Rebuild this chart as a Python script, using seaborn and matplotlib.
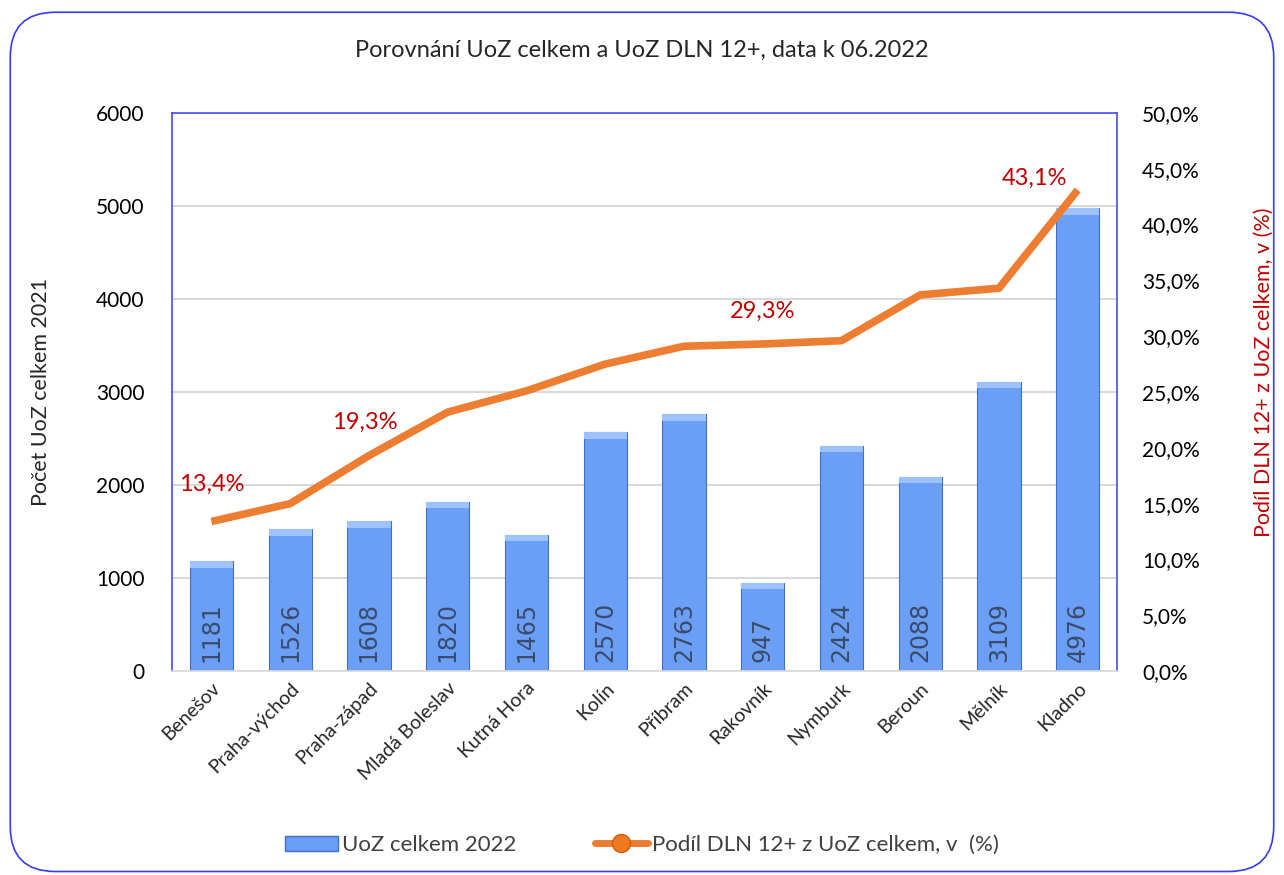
import matplotlib
matplotlib.use("Agg")
import matplotlib.pyplot as plt
import seaborn as sns
import pandas as pd
from matplotlib.patches import FancyBboxPatch, Patch
from matplotlib.lines import Line2D
from matplotlib.ticker import FuncFormatter, MultipleLocator

districts = ["Benešov", "Praha-východ", "Praha-západ", "Mladá Boleslav", "Kutná Hora",
             "Kolín", "Příbram", "Rakovník", "Nymburk", "Beroun", "Mělník", "Kladno"]
uoz_total = [1181, 1526, 1608, 1820, 1465, 2570, 2763, 947, 2424, 2088, 3109, 4976]
dln_share = [13.4, 15.0, 19.3, 23.2, 25.1, 27.5, 29.1, 29.3, 29.6, 33.7, 34.3, 43.1]
labelled_idx = [0, 2, 7, 11]

title = "Porovnání UoZ celkem a UoZ DLN 12+, data k 06.2022"
ylabel_left = "Počet UoZ celkem 2021"
ylabel_right = "Podíl DLN 12+ z UoZ celkem, v (%)"
legend_bar = "UoZ celkem 2022"
legend_line = "Podíl DLN 12+ z UoZ celkem, v  (%)"

sns.set_theme(style="white")
plt.rcParams["font.family"] = ["Lato", "DejaVu Sans"]

df = pd.DataFrame({"district": districts, "uoz": uoz_total, "share": dln_share})

fig = plt.figure(figsize=(12.84, 8.75), dpi=100)
fig.patches.append(FancyBboxPatch((0.008, 0.004), 0.984, 0.982, boxstyle="round,pad=0,rounding_size=0.035",
                                  transform=fig.transFigure, fill=False, edgecolor="#3a3af0", lw=1.2,
                                  mutation_aspect=1284/875))
ax = fig.add_axes([0.134, 0.2331, 0.736, 0.6378])

bar_color = "#6a9ff5"
sns.barplot(data=df, x="district", y="uoz", ax=ax, color=bar_color, width=0.55,
            edgecolor="#3f6fc8", linewidth=0.8, saturation=1)
# lighter top cap on each bar
for p in list(ax.patches):
    x0, w, h = p.get_x(), p.get_width(), p.get_height()
    ax.add_patch(plt.Rectangle((x0, h - 70), w, 70, color="#9cc3ff", lw=0, zorder=3))
for i, v in enumerate(uoz_total):
    ax.text(i, 95, str(v), rotation=90, ha="center", va="bottom", fontsize=17,
            color="#3b4b6b", family=["DejaVu Sans"], zorder=4)

ax.set_ylim(0, 6000)
ax.set_xlim(-0.5, 11.5)
ax.yaxis.set_major_locator(MultipleLocator(1000))
ax.grid(axis="y", color="#d9d9d9", lw=1.5)
ax.set_axisbelow(True)
for s in ["left", "top", "right"]:
    ax.spines[s].set_color("#4a4af5")
    ax.spines[s].set_linewidth(1.2)
ax.spines["bottom"].set_color("#d9d9d9")
ax.tick_params(axis="y", labelsize=15, colors="black", length=0, pad=20)
ax.tick_params(axis="x", length=0, pad=6)
ax.set_xticks(range(len(districts)))
ax.set_xticklabels(districts, rotation=45, ha="right", rotation_mode="anchor", fontsize=14)
ax.set_xlabel("")
ax.set_ylabel(ylabel_left, fontsize=15.5, labelpad=32)

ax2 = ax.twinx()
sns.lineplot(data=df, x="district", y="share", ax=ax2, color="#ed7d31", lw=5.5,
             solid_capstyle="butt", sort=False)
ax2.set_ylim(0, 50)
ax2.yaxis.set_major_locator(MultipleLocator(5))
ax2.yaxis.set_major_formatter(FuncFormatter(lambda v, _: f"{v:.1f}%".replace(".", ",")))
ax2.tick_params(axis="y", labelsize=15, colors="black", length=0, pad=18)
ax2.set_ylabel(ylabel_right, fontsize=15.5, color="#c00000")
ax2.yaxis.set_label_coords(1.145, 0.535)
ax2.grid(False)
for s in ax2.spines.values():
    s.set_visible(False)
ax2.set_xlim(-0.5, 11.5)

offsets = {0: (0.0, 3.3), 2: (-0.05, 3.0), 7: (0.0, 2.9), 11: (-0.55, 1.0)}
for i in labelled_idx:
    dx, dy = offsets[i]
    ax2.text(i + dx, dln_share[i] + dy, f"{dln_share[i]:.1f}%".replace(".", ","),
             ha="center", va="center", fontsize=17, color="#c00000")

fig.text(0.5, 0.942, title, ha="center", va="center", fontsize=17)

handles = [Patch(facecolor=bar_color, edgecolor="#3f6fc8"),
           Line2D([0], [0], color="#ed7d31", lw=5, marker="o", markersize=13,
                  markerfacecolor="#ee7a1e", markeredgecolor="#c95f10")]
fig.legend(handles, [legend_bar, legend_line], loc="center", bbox_to_anchor=(0.5, 0.034),
           ncol=2, frameon=False, fontsize=16, handlelength=2.4, columnspacing=3.5,
           handletextpad=0.2, labelcolor="#404040")

fig.savefig("out.png", dpi=100)
